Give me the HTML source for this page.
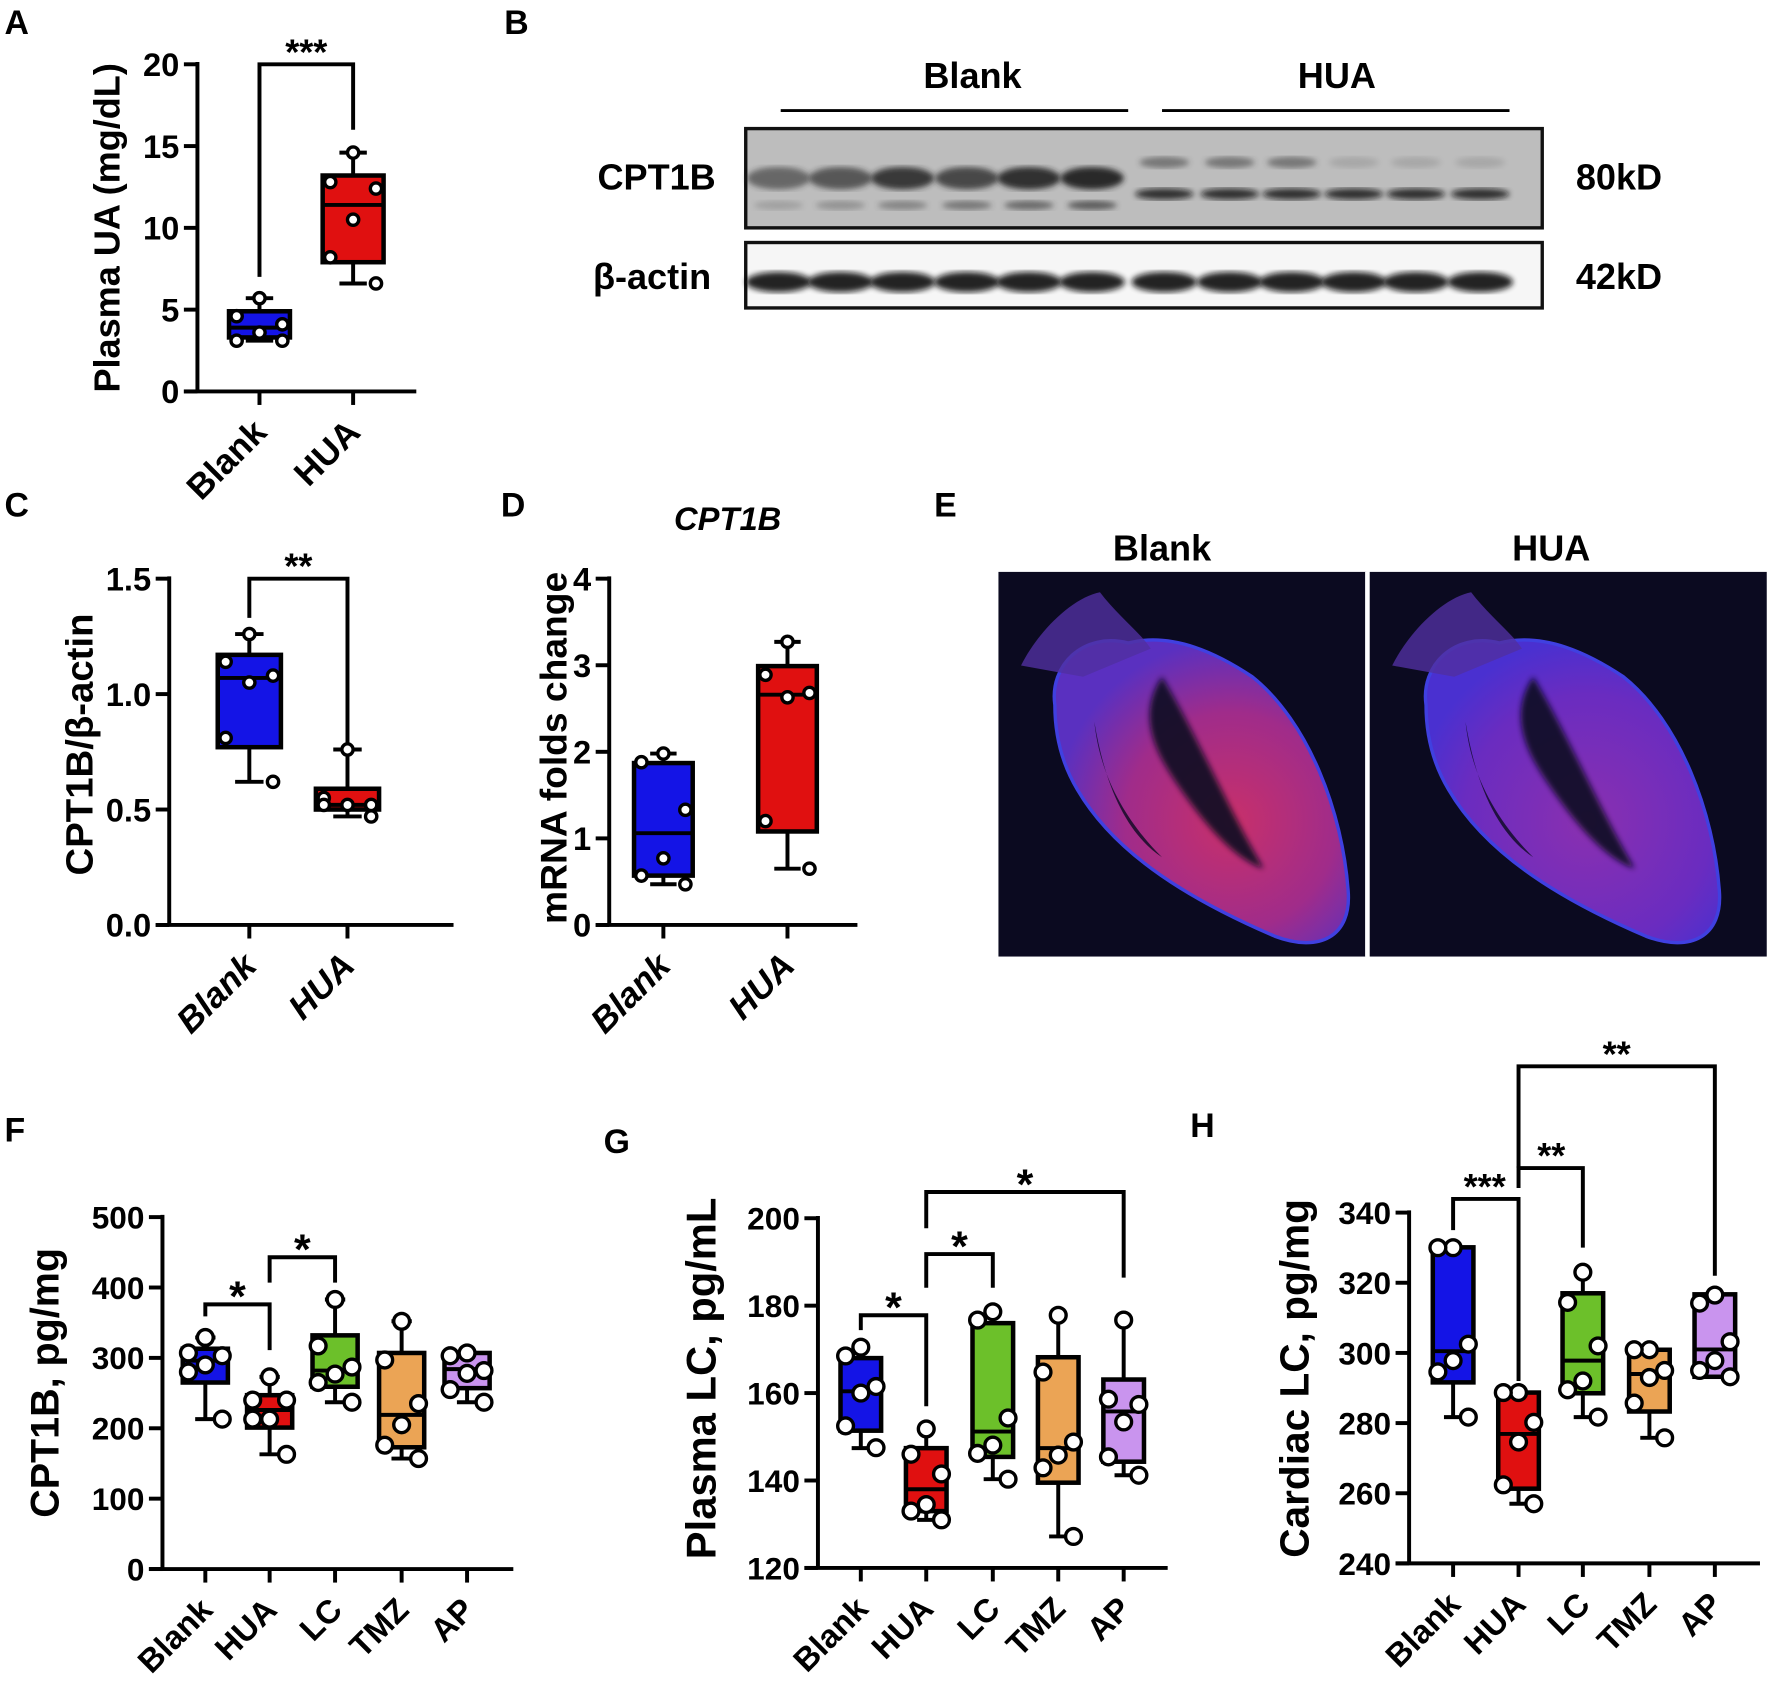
<!DOCTYPE html>
<html><head><meta charset="utf-8"><style>
html,body{margin:0;padding:0;background:#fff;}
svg{display:block;}
text{font-family:"Liberation Sans",Arial,sans-serif;font-weight:bold;fill:#000;}
</style></head><body>
<svg id="fig" xmlns="http://www.w3.org/2000/svg" width="1769" height="1692" viewBox="0 0 1568 1500" preserveAspectRatio="none">
<defs>
<filter id="blur2"><feGaussianBlur stdDeviation="2.5"/></filter>
<filter id="blur6"><feGaussianBlur stdDeviation="6"/></filter>
<radialGradient id="hL" cx="0.6" cy="0.6" r="0.6"><stop offset="0" stop-color="#c8306a"/><stop offset="0.6" stop-color="#a02c8a"/><stop offset="1" stop-color="#5a30c0"/></radialGradient>
<radialGradient id="hR" cx="0.55" cy="0.6" r="0.6"><stop offset="0" stop-color="#8a30b0"/><stop offset="0.7" stop-color="#6a2cc0"/><stop offset="1" stop-color="#4a30d0"/></radialGradient>
</defs>
<g id="root"></g>
</svg>
<script>
// ---------- DATA ----------
const twoCats = ['Blank','HUA'];
const fiveCats = ['Blank','HUA','LC','TMZ','AP'];
// Panel A
const aMin=[3.1,6.6], aQ1=[3.3,7.9], aMed=[3.9,11.4], aQ3=[4.9,13.2], aMax=[5.7,14.6];
const aPts=[[5.7,4.6,4.1,3.6,3.1,3.1],[14.6,12.8,12.4,10.5,8.2,6.6]];
const aTicks=[0,5,10,15,20];
// Panel C
const cMin=[0.62,0.47], cQ1=[0.77,0.50], cMed=[1.07,0.52], cQ3=[1.17,0.59], cMax=[1.26,0.76];
const cPts=[[1.26,1.14,1.08,1.05,0.81,0.62],[0.76,0.55,0.52,0.52,0.52,0.47]];
const cTicks=[0,0.5,1.0,1.5];
// Panel D
const dMin=[0.47,0.65], dQ1=[0.57,1.08], dMed=[1.06,2.66], dQ3=[1.87,2.99], dMax=[1.98,3.27];
const dPts=[[1.98,1.88,1.33,0.77,0.57,0.47],[3.27,2.89,2.68,2.63,1.2,0.65]];
const dTicks=[0,1,2,3,4];
// Panel F
const fMin=[213,163,237,157,237], fQ1=[265,201,259,173,257], fMed=[296,226,282,219,284], fQ3=[313,247,332,307,307], fMax=[329,273,383,352,307];
const fPts=[[329,307,303,290,280,213],[273,240,240,213,213,163],[383,317,287,277,265,237],[352,297,235,205,176,157],[307,303,282,278,255,237]];
const fTicks=[0,100,200,300,400,500];
// Panel G
const gMin=[147.4,131,140.3,127.2,141.2], gQ1=[151.4,133,145.4,139.5,144.3], gMed=[160.4,138,151.2,147.4,155.8], gQ3=[168,147.4,176,168.2,163.1], gMax=[170.5,151.8,178.6,177.8,176.7];
const gPts=[[170.5,168.5,161.5,160,152.5,147.5],[151.8,146,141.5,134.5,133,131],[178.6,176.7,154.3,148.1,146.2,140.3],[177.8,164.8,148.8,145.8,142.9,127.2],[176.7,158.6,157.4,153.4,145.4,141.2]];
const gTicks=[120,140,160,180,200];
// Panel H
const hMin=[281.7,257,281.7,275.8,293.2], hQ1=[291.6,261.3,288.5,283.3,293.2], hMed=[300.5,276.9,297.8,294,301], hQ3=[330.1,288.7,317,300.9,316.7], hMax=[330.1,288.7,323,300.9,316.7];
const hPts=[[330,330,302.5,297.8,294.6,281.7],[288.7,288.7,280.2,274.6,262.4,257],[323,314.4,302,292,289.5,281.7],[300.9,300.9,295,293,285.7,275.8],[316.5,314.2,303.2,297.8,295,293.2]];
const hTicks=[240,260,280,300,320,340];
const groupColors=['#1414e6','#e01010','#6cc02a','#eba455','#c994ee'];

// ---------- HELPERS ----------
const NS='http://www.w3.org/2000/svg';
const root=document.getElementById('root');
function mk(tag,attrs,parent){const e=document.createElementNS(NS,tag);for(const k in attrs)e.setAttribute(k,attrs[k]);(parent||root).appendChild(e);return e;}
function txt(s,attrs,parent){const e=mk('text',attrs,parent);e.textContent=s;return e;}

function panel(o){
  const g=mk('g',{});
  
  
  const ys=v=>o.yBot-(v-o.vmin)/(o.vmax-o.vmin)*(o.yBot-o.yTop);
  const xs=i=>o.cx[i];
  const ya=mk('line',{x1:o.ax,y1:o.yTop-2,x2:o.ax,y2:o.yBot,stroke:'#000','stroke-width':3.5},g);
  
  
  const xa=mk('line',{x1:o.ax-12,y1:o.yBot,x2:o.axEnd,y2:o.yBot,stroke:'#000','stroke-width':3.5},g);
  
  
  o.ticks.forEach(t=>{
    const y=ys(t);
    mk('line',{x1:o.ax-12,y1:y,x2:o.ax,y2:y,stroke:'#000','stroke-width':3.5},g);
    const tl=txt(o.fmt?o.fmt(t):String(t),{x:o.ax-16,y:y+o.fs*0.36,'text-anchor':'end','font-size':o.fs},g);
    
    
  });
  o.cats.forEach((c,i)=>{
    const x=xs(i);
    mk('line',{x1:x,y1:o.yBot,x2:x,y2:o.yBot+12,stroke:'#000','stroke-width':3.5},g);
    const lx=x+8, ly=o.yBot+38;
    const cl=txt(c,{x:lx,y:ly,'text-anchor':'end','font-size':o.xfs,'font-style':o.italicX?'italic':'normal',transform:`rotate(-45 ${lx} ${ly})`},g);
    
    
  });
  const tt=txt(o.ytitle,{x:o.ytx,y:o.yty,'text-anchor':'middle','font-size':o.tfs,transform:`rotate(-90 ${o.ytx} ${o.yty})`},g);
  
  
  o.cats.forEach((c,i)=>{
    const x=xs(i),hw=o.bw/2;
    const bg=mk('g',{},g);
    
    
    mk('line',{x1:x,y1:ys(o.max[i]),x2:x,y2:ys(o.min[i]),stroke:'#000','stroke-width':3.5},bg);
    mk('line',{x1:x-hw*0.45,y1:ys(o.max[i]),x2:x+hw*0.45,y2:ys(o.max[i]),stroke:'#000','stroke-width':3.5},bg);
    mk('line',{x1:x-hw*0.45,y1:ys(o.min[i]),x2:x+hw*0.45,y2:ys(o.min[i]),stroke:'#000','stroke-width':3.5},bg);
    mk('rect',{x:x-hw,y:ys(o.q3[i]),width:o.bw,height:Math.max(1,ys(o.q1[i])-ys(o.q3[i])),fill:groupColors[i],stroke:'#000','stroke-width':4},bg);
    mk('line',{x1:x-hw,y1:ys(o.med[i]),x2:x+hw,y2:ys(o.med[i]),stroke:'#000','stroke-width':3.5},bg);
    const offs=[0,-0.75,0.75,0,-0.75,0.75];
    o.pts[i].forEach((v,j)=>{
      const p=mk('circle',{cx:x+offs[j%6]*hw,cy:ys(v),r:o.pr,fill:'#fff',stroke:'#000','stroke-width':3},bg);
      
      
    });
  });
  (o.br||[]).forEach(b=>{
    const x1=xs(b[0]),x2=xs(b[1]),yb=ys(b[2]);
    const bb=mk('path',{d:`M${x1},${ys(b[3])} V${yb} H${x2} V${ys(b[4])}`,fill:'none',stroke:'#000','stroke-width':3.5},g);
    
    
    const st=txt(b[5],{x:(b[6]!==undefined?b[6]:(x1+x2)/2),y:yb-8+ (b[5].length>1?8:14),'text-anchor':'middle','font-size':b[5].length>1?32:38,'font-weight':'normal'},g);
    
    
  });
  return g;
}
function label(s,x,y){const l=txt(s,{x:x,y:y,'font-size':30});}

// ---------- PANELS ----------
label('A',4,30);
panel({name:'panel-a-plasma-ua',ax:175,yTop:57,yBot:347,vmin:0,vmax:20,ticks:aTicks,cats:twoCats,cx:[230,313],axEnd:369,
  min:aMin,q1:aQ1,med:aMed,q3:aQ3,max:aMax,pts:aPts,bw:54,pr:5,fs:29,xfs:31,tfs:32,ytitle:'Plasma UA (mg/dL)',ytx:106,yty:202,
  br:[[0,1,20,7,16,'***']]});
label('C',4,458);
panel({name:'panel-c-cpt1b-ratio',ax:150,yTop:513,yBot:820,vmin:0,vmax:1.5,ticks:cTicks,fmt:t=>t.toFixed(1),cats:twoCats,cx:[221,308],axEnd:402,
  min:cMin,q1:cQ1,med:cMed,q3:cQ3,max:cMax,pts:cPts,bw:56,pr:5,fs:29,xfs:31,tfs:34,italicX:true,ytitle:'CPT1B/β-actin',ytx:82,yty:660,
  br:[[0,1,1.5,1.33,0.78,'**']]});
label('D',444,458);
const dt=txt('CPT1B',{x:645,y:470,'text-anchor':'middle','font-size':29,'font-style':'italic'});


panel({name:'panel-d-mrna',ax:540,yTop:513,yBot:820,vmin:0,vmax:4,ticks:dTicks,cats:twoCats,cx:[588,698],axEnd:760,
  min:dMin,q1:dQ1,med:dMed,q3:dQ3,max:dMax,pts:dPts,bw:52,pr:5,fs:29,xfs:31,tfs:33,italicX:true,ytitle:'mRNA folds change',ytx:502,yty:663});
label('F',4,1012);
panel({name:'panel-f-cpt1b',ax:144,yTop:1079,yBot:1391,vmin:0,vmax:500,ticks:fTicks,cats:fiveCats,cx:[182,239,297,356,414],axEnd:455,
  min:fMin,q1:fQ1,med:fMed,q3:fQ3,max:fMax,pts:fPts,bw:40,pr:7,fs:28,xfs:29,tfs:35,ytitle:'CPT1B, pg/mg',ytx:52,yty:1226,
  br:[[0,1,376,359,311,'*'],[1,2,443,407,407,'*']]});
label('G',535,1022);
panel({name:'panel-g-plasma-lc',ax:725,yTop:1080,yBot:1390,vmin:120,vmax:200,ticks:gTicks,cats:fiveCats,cx:[763,821,880,938,996],axEnd:1035,
  min:gMin,q1:gQ1,med:gMed,q3:gQ3,max:gMax,pts:gPts,bw:36,pr:7,fs:28,xfs:29,tfs:37,ytitle:'Plasma LC, pg/mL',ytx:634,yty:1222,
  br:[[0,1,177.8,174.4,157,'*'],[1,2,191.8,184.1,184.1,'*'],[1,4,206,197.7,186.4,'*']]});
label('H',1055,1008);
panel({name:'panel-h-cardiac-lc',ax:1249,yTop:1075,yBot:1386,vmin:240,vmax:340,ticks:hTicks,cats:fiveCats,cx:[1288,1346,1403,1462,1520],axEnd:1560,
  min:hMin,q1:hQ1,med:hMed,q3:hQ3,max:hMax,pts:hPts,bw:36,pr:7,fs:28,xfs:29,tfs:36,ytitle:'Cardiac LC, pg/mg',ytx:1160,yty:1222,
  br:[[0,1,343.9,335,292,'***',1316],[1,2,352.7,347,330,'**',1375],[1,4,381.7,352.7,322,'**']]});

// ---------- PANEL B: western blot ----------
label('B',447,30);
(function(){
  const g=mk('g',{});
  
  
  const t1=txt('Blank',{x:862,y:78,'text-anchor':'middle','font-size':32},g);
  
  
  const t2=txt('HUA',{x:1185,y:78,'text-anchor':'middle','font-size':32},g);
  
  
  mk('line',{x1:692,y1:98,x2:1000,y2:98,stroke:'#000','stroke-width':2.5},g);
  mk('line',{x1:1030,y1:98,x2:1338,y2:98,stroke:'#000','stroke-width':2.5},g);
  mk('rect',{x:661,y:114,width:706,height:88,fill:'#bdbdbd',stroke:'#111','stroke-width':3},g);
  mk('rect',{x:661,y:215,width:706,height:58,fill:'#f6f6f6',stroke:'#111','stroke-width':3},g);
  const lanes=[690,745,800,857,912,968,1032,1090,1145,1200,1255,1312];
  const main=[0.55,0.65,0.85,0.75,0.9,0.95];
  lanes.forEach((x,i)=>{
    if(i<6){
      mk('ellipse',{cx:x,cy:158,rx:28,ry:10,fill:'#222','opacity':main[i],filter:'url(#blur2)'},g);
      mk('ellipse',{cx:x,cy:182,rx:22,ry:4,fill:'#333','opacity':0.2+i*0.1,filter:'url(#blur2)'},g);
    } else {
      mk('ellipse',{cx:x,cy:172,rx:26,ry:5,fill:'#111','opacity':0.8,filter:'url(#blur2)'},g);
      mk('ellipse',{cx:x,cy:144,rx:22,ry:5,fill:'#333','opacity':i<9?0.5:0.15,filter:'url(#blur2)'},g);
    }
    mk('ellipse',{cx:x,cy:250,rx:29,ry:9,fill:'#111','opacity':0.9,filter:'url(#blur2)'},g);
  });
  [['CPT1B',582,168],['β-actin',578,256],['80kD',1435,168],['42kD',1435,256]].forEach(a=>{
    const t=txt(a[0],{x:a[1],y:a[2],'text-anchor':'middle','font-size':32},g);
    
    
  });
})();

// ---------- PANEL E: heart sections ----------
label('E',828,458);
(function(){
  const g=mk('g',{});
  
  
  const t1=txt('Blank',{x:1030,y:497,'text-anchor':'middle','font-size':32},g);
  
  
  const t2=txt('HUA',{x:1375,y:497,'text-anchor':'middle','font-size':32},g);
  
  
  [[885,'url(#hL)'],[1214,'url(#hR)']].forEach((a,k)=>{
    const x0=a[0];
    const im=mk('g',{},g);
    
    
    mk('rect',{x:x0,y:507,width:k?352:326,height:341,fill:'#0b0a20'},im);
    const dx=x0-885;
    mk('path',{d:`M${dx+935},${625} C${dx+930},${590} ${dx+960},${560} ${dx+1000},${570} C${dx+1040},${560} ${dx+1080},${580} ${dx+1110},${600} C${dx+1160},${640} ${dx+1190},${720} ${dx+1195},${790} C${dx+1198},${830} ${dx+1170},${845} ${dx+1130},${830} C${dx+1060},${800} ${dx+990},${760} ${dx+955},${700} C${dx+940},${675} ${dx+935},${650} ${dx+935},${625} Z`,fill:a[1],stroke:'#4040e0','stroke-width':3},im);
    mk('path',{d:`M${dx+905},${590} C${dx+920},${560} ${dx+950},${530} ${dx+975},${525} C${dx+990},${545} ${dx+1010},${560} ${dx+1020},${575} L${dx+960},${600} Z`,fill:'#5030a0',opacity:0.8},im);
    mk('path',{d:`M${dx+1030},${600} C${dx+1060},${650} ${dx+1090},${720} ${dx+1120},${770} C${dx+1090},${760} ${dx+1060},${720} ${dx+1040},${690} C${dx+1020},${660} ${dx+1010},${630} ${dx+1030},${600} Z`,fill:'#0b0a20',opacity:0.9,filter:'url(#blur2)'},im);
    mk('path',{d:`M${dx+970},${640} C${dx+975},${690} ${dx+1000},${730} ${dx+1030},${760} C${dx+1000},${740} ${dx+980},${700} ${dx+970},${640} Z`,fill:'#0b0a20',opacity:0.8},im);
  });
  mk('rect',{x:1210,y:507,width:4,height:341,fill:'#fff'},g);
})();
</script>
</body></html>
